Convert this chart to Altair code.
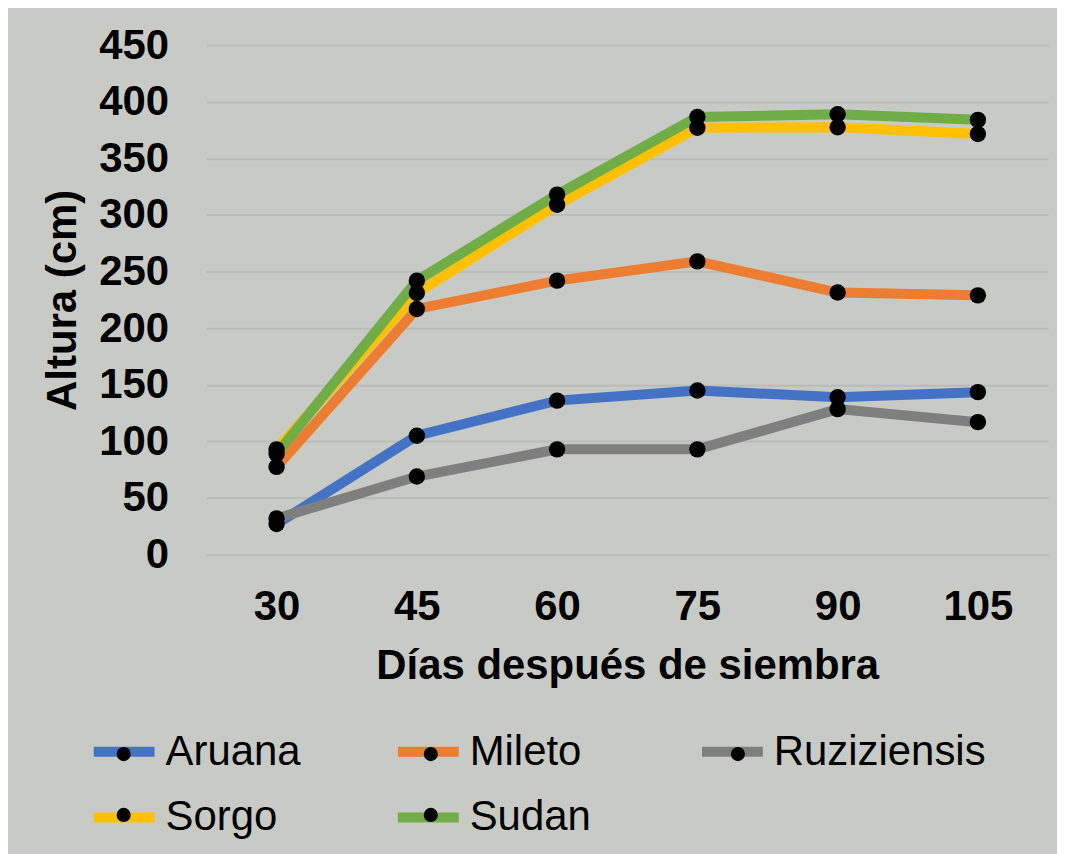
import altair as alt
import pandas as pd

days = ["30", "45", "60", "75", "90", "105"]
series_names = ["Aruana", "Mileto", "Ruziziensis", "Sorgo", "Sudan"]
aruana = [27, 105, 136, 145, 139, 143.5]
mileto = [77.5, 217, 242, 259, 231.5, 229]
ruziziensis = [32, 69, 93, 93, 128.5, 117]
sorgo = [93, 231, 309, 377, 377.5, 371.5]
sudan = [89, 242, 318, 386.5, 389, 384]
colors = ["#4472C4", "#ED7D31", "#7F7F7F", "#FFC000", "#70AD47"]
y_ticks = [0, 50, 100, 150, 200, 250, 300, 350, 400, 450]

marker_names = [n + " " for n in series_names]

rows = []
for name, mname, vals in zip(series_names, marker_names,
                             [aruana, mileto, ruziziensis, sorgo, sudan]):
    for d, v in zip(days, vals):
        rows.append({"Serie": name, "Marca": mname, "Dia": d, "Altura": v})
df = pd.DataFrame(rows)

FONT = "Liberation Sans"

x_enc = alt.X(
    "Dia:O", sort=days,
    scale=alt.Scale(type="point", padding=0.5),
    axis=alt.Axis(
        title="Días después de siembra", labelAngle=0, domain=False, ticks=False,
        grid=False, labelFont=FONT, labelFontSize=42, labelFontWeight="bold",
        labelColor="black", labelPadding=32, titleFont=FONT, titleFontSize=42,
        titleFontWeight="bold", titleColor="black", titlePadding=18,
    ),
)
y_enc = alt.Y(
    "Altura:Q",
    scale=alt.Scale(domain=[0, 450], nice=False),
    axis=alt.Axis(
        title="Altura (cm)", values=y_ticks, domain=False, ticks=False,
        grid=True, gridColor="#B9BCB9", gridWidth=2, labelFont=FONT,
        labelFontSize=42, labelFontWeight="bold", labelColor="black",
        labelPadding=38, titleFont=FONT, titleFontSize=42, titleFontWeight="bold",
        titleColor="black", titlePadding=14,
    ),
)

leg_common = dict(
    orient="none", legendX=-118, direction="horizontal", gridAlign="all",
    columns=3, title=None, labelFont=FONT, labelFontSize=42, labelColor="black",
    columnPadding=0, labelExpr="trim(datum.label)", labelLimit=500,
)

lines = alt.Chart(df).mark_line(strokeWidth=10).encode(
    x=x_enc, y=y_enc,
    color=alt.Color(
        "Serie:N", sort=series_names,
        scale=alt.Scale(domain=series_names, range=colors),
        legend=alt.Legend(
            symbolType="stroke", symbolStrokeWidth=10, symbolSize=3721,
            labelOffset=6, zindex=1, legendY=673, rowPadding=9, **leg_common,
        ),
    ),
    detail="Serie:N",
)

points = alt.Chart(df).mark_point(filled=True, color="black", size=270, opacity=1).encode(
    x=x_enc, y=y_enc,
    shape=alt.Shape(
        "Marca:N", sort=marker_names,
        scale=alt.Scale(domain=marker_names, range=["circle"] * 5),
        legend=alt.Legend(
            symbolSize=200, symbolFillColor="black", symbolStrokeColor="black",
            symbolOffset=14, labelOpacity=0, labelOffset=67 - 14.14 - 14,
            zindex=2, legendY=690, rowPadding=19, **leg_common,
        ),
    ),
    detail="Serie:N",
)

chart = alt.layer(lines, points).properties(
    width=844, height=511,
    autosize=alt.AutoSizeParams(type="none"),
    padding={"left": 199, "top": 36, "right": 9, "bottom": 299},
    background="#C8CBC5",
).configure_view(stroke=None)

chart.save("out.html", embed_options={"renderer": "svg", "actions": False})
